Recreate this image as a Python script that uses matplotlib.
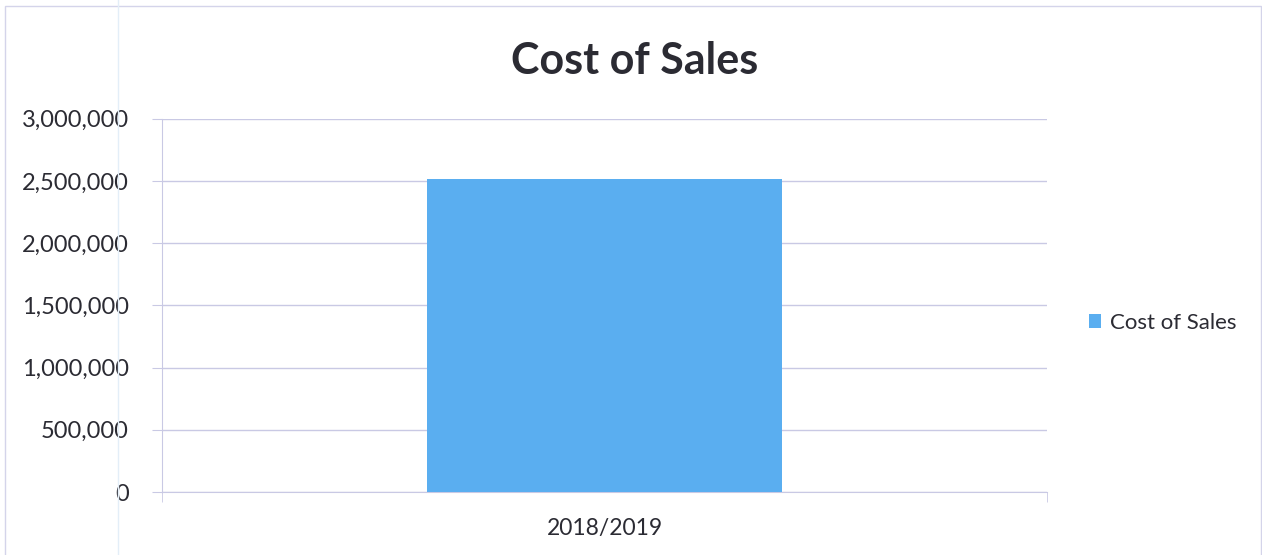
import matplotlib.pyplot as plt
from matplotlib.patches import Rectangle
from matplotlib.ticker import FuncFormatter

categories = ['2018/2019']
cost_of_sales = [2512000]
series_name = 'Cost of Sales'

plt.rcParams['font.family'] = ['Lato', 'DejaVu Sans']

fig = plt.figure(figsize=(12.62, 5.55), dpi=100)
ax = fig.add_axes([0.128, 0.1135, 0.702, 0.6725])

grid_col = '#c9c9e4'
bar_col = '#5aaef0'
text_col = '#2b2b33'

ax.bar(categories, cost_of_sales, width=0.4, color=bar_col, label=series_name, zorder=3)
ax.set_xlim(-0.5, 0.5)
ax.set_ylim(0, 3000000)
ax.set_yticks(range(0, 3000001, 500000))
ax.yaxis.set_major_formatter(FuncFormatter(lambda v, p: f'{int(v):,}'))
ax.grid(axis='y', color=grid_col, linewidth=1, zorder=0)

for s in ['top', 'right']:
    ax.spines[s].set_visible(False)
ax.spines['left'].set_color(grid_col)
ax.spines['bottom'].set_color(grid_col)
ax.tick_params(axis='y', length=7, color=grid_col, labelsize=17, labelcolor=text_col, pad=16.5)
ax.tick_params(axis='x', length=0, labelsize=16.5, labelcolor=text_col, pad=19)
# small edge ticks on the category axis
ax.set_xticks([-0.5, 0.5], minor=True)
ax.tick_params(axis='x', which='minor', length=7, color=grid_col)

fig.text(0.503, 0.89, 'Cost of Sales', ha='center', va='center',
         fontsize=31, fontweight='bold', color=text_col)

ax.legend(loc='center left', bbox_to_anchor=(1.024, 0.453), frameon=False,
          fontsize=16, handlelength=0.55, handleheight=0.55, handletextpad=0.4,
          labelcolor=text_col)

# chart frame
fig.patches.append(Rectangle((0.004, -0.01), 0.995, 1.0, transform=fig.transFigure,
                             fill=False, edgecolor='#d4d4ea', linewidth=1))
fig.lines.append(plt.Line2D([0.0935, 0.0935], [0, 1], transform=fig.transFigure,
                            color='#e3eef8', linewidth=1))

fig.savefig('out.png', dpi=100)
